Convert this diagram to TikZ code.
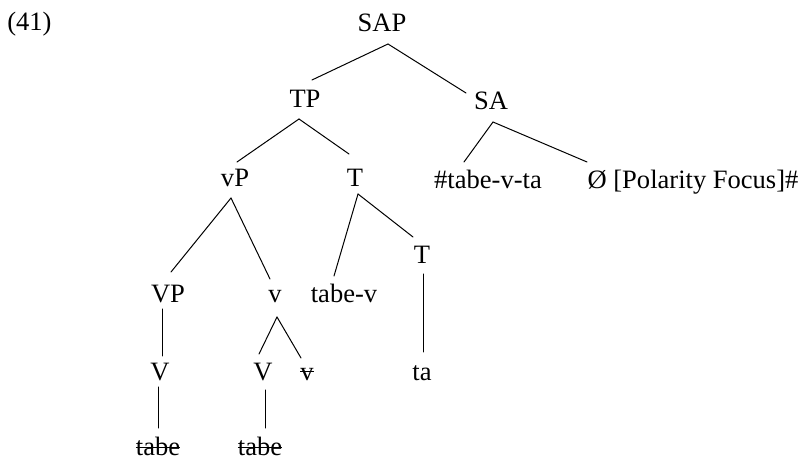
\documentclass[tikz,border=0pt]{standalone}
\usepackage{fontspec}
\setmainfont{Liberation Serif}
% struck-through word: optional height of the bar above the baseline
\newcommand\strk[2][0.26em]{\setbox0=\hbox{#2}\rlap{\rule[#1]{\wd0}{0.05em}}\box0}
\tikzset{
  lbl/.style={inner sep=0pt, anchor=base, font=\fontsize{19.9}{24}\selectfont},
  branch/.style={line width=0.75pt, line cap=round}
}
\begin{document}
\begin{tikzpicture}[x=0.75pt, y=-0.75pt]
\useasboundingbox (0,0) rectangle (810,459);

\node[lbl, anchor=base west] (ex) at (7,31) {(41)};

% labels, placed by their baselines
\node[lbl] (SAP) at (382,32) {SAP};
\node[lbl] (TP) at (305,108) {TP};
\node[lbl] (SA) at (491,110) {SA};
\node[lbl] (vP) at (235,187) {vP};
\node[lbl] (T) at (355,187) {T};
\node[lbl] (tabeta) at (488,189) {\#tabe-v-ta};
\node[lbl] (pol) at (693,189) {Ø [Polarity Focus]\#};
\node[lbl] (VP) at (168,303) {VP};
\node[lbl] (v) at (275,303) {v};
\node[lbl] (tabev) at (344,303) {tabe-v};
\node[lbl] (T2) at (422,264) {T};
\node[lbl] (V1) at (160,381) {V};
\node[lbl] (V2) at (263,381) {V};
\node[lbl] (vs) at (307,381) {\strk[0.34em]{v}};
\node[lbl] (ta) at (422,381) {ta};
\node[lbl] (tabe1) at (158,455) {\strk{tabe}};
\node[lbl] (tabe2) at (260,455) {\strk{tabe}};

% branches
\draw[branch] ([shift={(6,12)}]SAP.base) -- ([shift={(7,-28)}]TP.base);
\draw[branch] ([shift={(6,12)}]SAP.base) -- ([shift={(-25,-17)}]SA.base);
\draw[branch] ([shift={(-6,11)}]TP.base) -- ([shift={(2,-25)}]vP.base);
\draw[branch] ([shift={(-6,11)}]TP.base) -- ([shift={(-6,-33)}]T.base);
\draw[branch] ([shift={(2,12)}]SA.base) -- ([shift={(-24,-27)}]tabeta.base);
\draw[branch] ([shift={(2,12)}]SA.base) -- ([shift={(-106,-27)}]pol.base);
\draw[branch] ([shift={(-4,11)}]vP.base) -- ([shift={(3,-31)}]VP.base);
\draw[branch] ([shift={(-4,11)}]vP.base) -- ([shift={(-5,-24)}]v.base);
\draw[branch] ([shift={(3,7)}]T.base) -- ([shift={(-10,-27)}]tabev.base);
\draw[branch] ([shift={(3,7)}]T.base) -- ([shift={(-9,-27)}]T2.base);
\draw[branch] ([shift={(-6,6)}]VP.base) -- ([shift={(2,-25)}]V1.base);
\draw[branch] ([shift={(2,14)}]v.base) -- ([shift={(-4,-27)}]V2.base);
\draw[branch] ([shift={(2,14)}]v.base) -- ([shift={(-6,-23)}]vs.base);
\draw[branch] ([shift={(1,10)}]T2.base) -- ([shift={(1,-29)}]ta.base);
\draw[branch] ([shift={(-2,6)}]V1.base) -- ([shift={(0,-27)}]tabe1.base);
\draw[branch] ([shift={(2,9)}]V2.base) -- ([shift={(5,-27)}]tabe2.base);
\end{tikzpicture}
\end{document}
